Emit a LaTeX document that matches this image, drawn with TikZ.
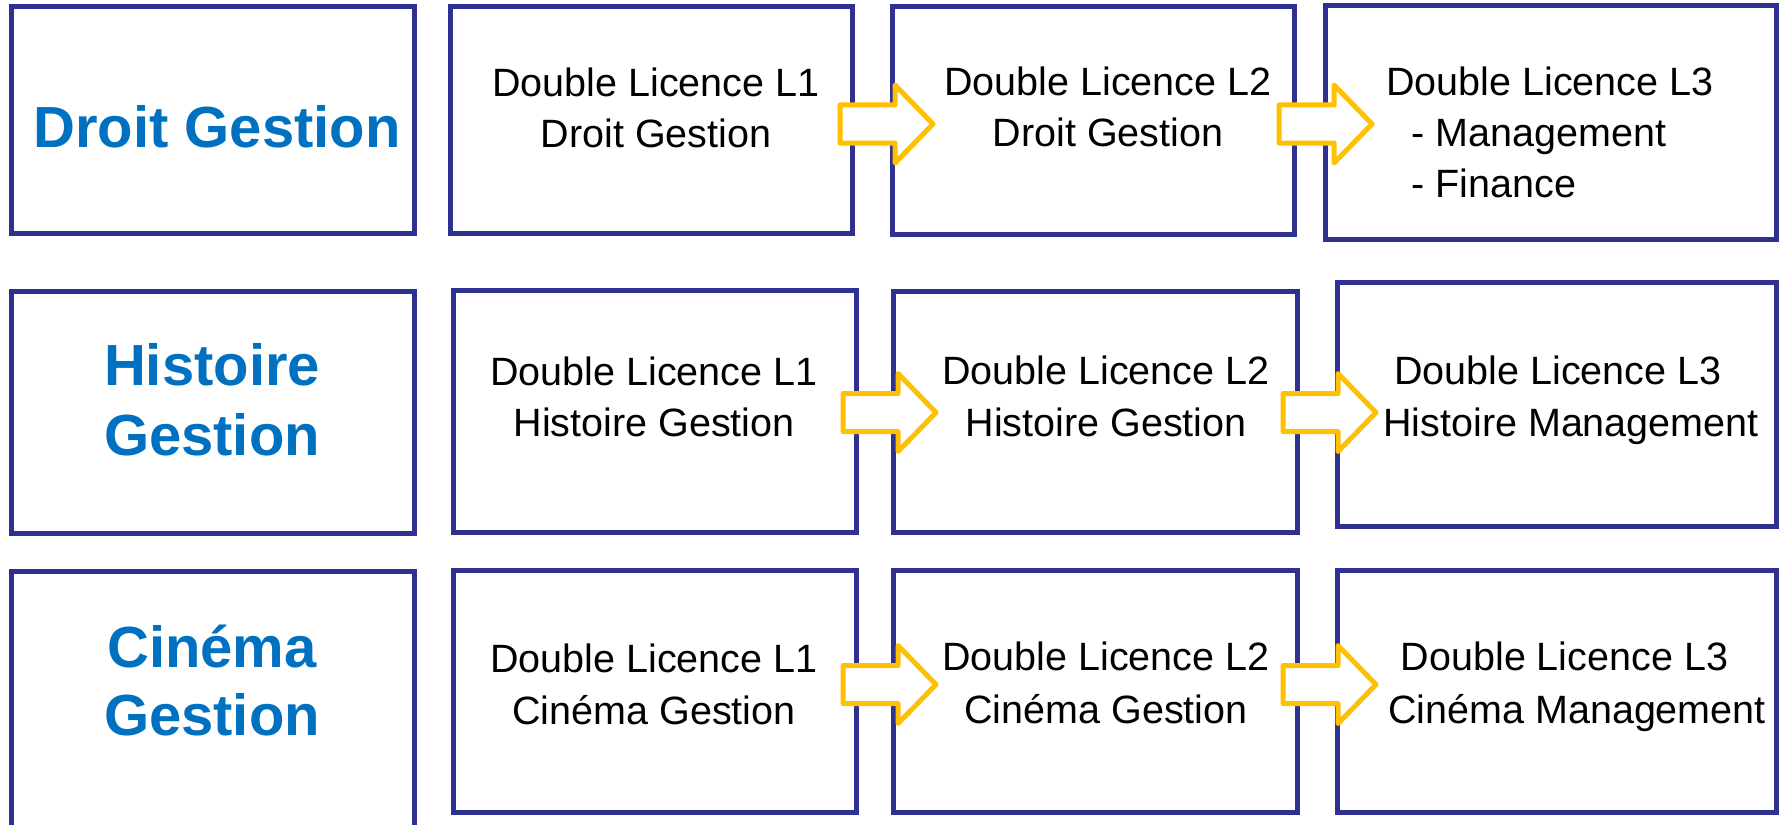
\documentclass[tikz,border=0pt]{standalone}
\usepackage{fontspec}
\setmainfont{Liberation Sans}
\usetikzlibrary{fit}
\definecolor{navy}{RGB}{46,49,146}
\definecolor{gold}{RGB}{255,192,0}
\definecolor{titleblue}{RGB}{0,112,192}
\begin{document}
\begin{tikzpicture}[x=0.5pt,y=-0.5pt,
  box/.style={draw=navy, line width=2.5pt, fill=white, inner sep=0pt, outer sep=0pt},
  txt/.style={anchor=base, inner sep=0pt, font=\fontsize{19.75pt}{24pt}\selectfont},
  ltxt/.style={anchor=base west, inner sep=0pt, font=\fontsize{19.75pt}{24pt}\selectfont},
  title/.style={anchor=base, inner sep=0pt, text=titleblue, font=\fontsize{29pt}{35pt}\selectfont\bfseries},
  barrow/.pic={\filldraw[draw=gold, fill=white, line width=2.5pt, line join=round]
     (0,-19) -- (55,-19) -- (55,-39) -- (93,0) -- (55,39) -- (55,19) -- (0,19) -- cycle;}
]
\path[use as bounding box, clip] (0,0) rectangle (1781,824);
\fill[white] (0,0) rectangle (1781,824);

% boxes
\node[box, fit={(11,7) (414,233)}] (A1) {};
\node[box, fit={(450,7) (852,233)}] (B1) {};
\node[box, fit={(892,7) (1294,234)}] (C1) {};
\node[box, fit={(1325,6) (1776,239)}] (D1) {};
\node[box, fit={(11,291) (414,533)}] (A2) {};
\node[box, fit={(453,290) (856,532)}] (B2) {};
\node[box, fit={(893,291) (1297,532)}] (C2) {};
\node[box, fit={(1337,282) (1776,526)}] (D2) {};
\node[box, fit={(11,571) (414,845)}] (A3) {};
\node[box, fit={(453,570) (856,812)}] (B3) {};
\node[box, fit={(893,570) (1297,812)}] (C3) {};
\node[box, fit={(1337,570) (1776,812)}] (D3) {};

% arrows
\pic (a1) at (840,124) {barrow};
\pic (a2) at (1279,124) {barrow};
\pic (a3) at (843,412.5) {barrow};
\pic (a4) at (1283,412.5) {barrow};
\pic (a5) at (843,684.5) {barrow};
\pic (a6) at (1283,684.5) {barrow};

% titles
\node[title] (tA1) at (217,148) {Droit Gestion};
\node[title] (tA2a) at (212,385) {Histoire};
\node[title] (tA2b) at (212,455) {Gestion};
\node[title] (tA3a) at (212,667) {Cinéma};
\node[title] (tA3b) at (212,735) {Gestion};

% row 1
\node[txt] (tB1a) at (656,96.5) {Double Licence L1};
\node[txt] (tB1b) at (656,148) {Droit Gestion};
\node[txt] (tC1a) at (1108,95.5) {Double Licence L2};
\node[txt] (tC1b) at (1108,147) {Droit Gestion};
\node[txt] (tD1a) at (1550,96) {Double Licence L3};
\node[ltxt] (tD1b) at (1411,147) {- Management};
\node[ltxt] (tD1c) at (1411,197) {- Finance};

% row 2
\node[txt] (tB2a) at (654,385) {Double Licence L1};
\node[txt] (tB2b) at (654,436.5) {Histoire Gestion};
\node[txt] (tC2a) at (1106,384.5) {Double Licence L2};
\node[txt] (tC2b) at (1106,436) {Histoire Gestion};
\node[txt] (tD2a) at (1558,384.5) {Double Licence L3};
\node[txt] (tD2b) at (1571,436) {Histoire Management};

% row 3
\node[txt] (tB3a) at (654,672) {Double Licence L1};
\node[txt] (tB3b) at (654,724.5) {Cinéma Gestion};
\node[txt] (tC3a) at (1106,670.5) {Double Licence L2};
\node[txt] (tC3b) at (1106,723.5) {Cinéma Gestion};
\node[txt] (tD3a) at (1564.5,670.5) {Double Licence L3};
\node[txt] (tD3b) at (1577,723.5) {Cinéma Management};
\end{tikzpicture}
\end{document}
